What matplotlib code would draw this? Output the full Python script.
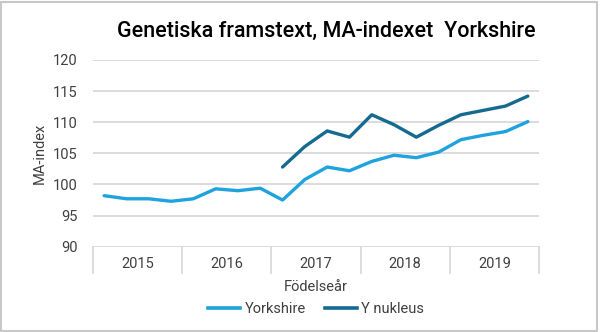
import matplotlib
matplotlib.use("Agg")
import matplotlib.pyplot as plt
from matplotlib.lines import Line2D
from matplotlib.patches import Rectangle

years = ["2015", "2016", "2017", "2018", "2019"]
quarters_per_year = 4
yorkshire = [98.2, 97.7, 97.7, 97.3, 97.7, 99.3, 99.0, 99.4,
             97.5, 100.8, 102.8, 102.2, 103.7, 104.7, 104.3, 105.2,
             107.2, 107.9, 108.5, 110.1]
y_nukleus = [None, None, None, None, None, None, None, None,
             102.8, 106.1, 108.6, 107.6, 111.2, 109.6, 107.6, 109.5,
             111.2, 111.9, 112.6, 114.2]
yticks = [90, 95, 100, 105, 110, 115, 120]
title = "Genetiska framstext, MA-indexet  Yorkshire"
xlabel = "Födelseår"
ylabel = "MA-index"
series_names = ["Yorkshire", "Y nukleus"]

plt.rcParams['font.family'] = ['Roboto', 'DejaVu Sans']

c_york = "#1ea3de"
c_nuk = "#156a90"
grid_c = "#d9d9d9"
text_c = "#404040"

fig = plt.figure(figsize=(6.0, 3.32), dpi=100)
ax = fig.add_axes([93/600, 1-246.7/332, (539-93)/600, (246.7-60)/332])

n = len(yorkshire)
x = list(range(n))
xn = [i for i, v in enumerate(y_nukleus) if v is not None]
vn = [v for v in y_nukleus if v is not None]

ax.plot(x, yorkshire, color=c_york, lw=2.4, solid_capstyle='round', zorder=3)
ax.plot(xn, vn, color=c_nuk, lw=2.4, solid_capstyle='round', zorder=3)

ax.set_xlim(-0.5, n - 0.5)
ax.set_ylim(90, 120)
ax.set_yticks(yticks)
ax.set_yticklabels([str(t) for t in yticks], fontsize=10.5, color=text_c)
ax.tick_params(axis='y', length=0, pad=11)
ax.set_xticks([])
for t in yticks:
    ax.axhline(t, color=grid_c, lw=1.3, zorder=1)
for s in ax.spines.values():
    s.set_visible(False)

# year separators and labels
trans = ax.get_xaxis_transform()
sep_len = 26.5 / (246.7 - 60)
for k in range(len(years) + 1):
    xs = -0.5 + k * quarters_per_year
    ax.add_line(Line2D([xs, xs], [0, -sep_len], transform=trans,
                       color=grid_c, lw=1.3, clip_on=False))
for k, yr in enumerate(years):
    xc = -0.5 + k * quarters_per_year + quarters_per_year / 2
    ax.text(xc, -(264 - 246.7) / (246.7 - 60), yr, transform=trans,
            ha='center', va='center', fontsize=10.5, color=text_c)

ax.text(0.5, -(287 - 246.7) / (246.7 - 60), xlabel, transform=ax.transAxes,
        ha='center', va='center', fontsize=10.5, color=text_c)
fig.text(40/600, 1 - 153/332, ylabel, rotation=90, ha='center', va='center',
         fontsize=10.5, color=text_c)

fig.text(326/600, 1 - 31/332, title, ha='center', va='center',
         fontsize=15.5, fontweight='medium', color='black')

handles = [Line2D([], [], color=c_york, lw=2.6),
           Line2D([], [], color=c_nuk, lw=2.6)]
fig.legend(handles, series_names, loc='center', bbox_to_anchor=(316/600, 1 - 309/332),
           ncol=2, frameon=False, fontsize=10.5, handlelength=2.2,
           handletextpad=0.3, columnspacing=1.3, labelcolor=text_c)

fig.add_artist(Rectangle((1/600, 1/332), 596/600, 329/332, transform=fig.transFigure,
                         fill=False, edgecolor="#c8c8c8", lw=1.5))

fig.savefig("out.png", dpi=100)
